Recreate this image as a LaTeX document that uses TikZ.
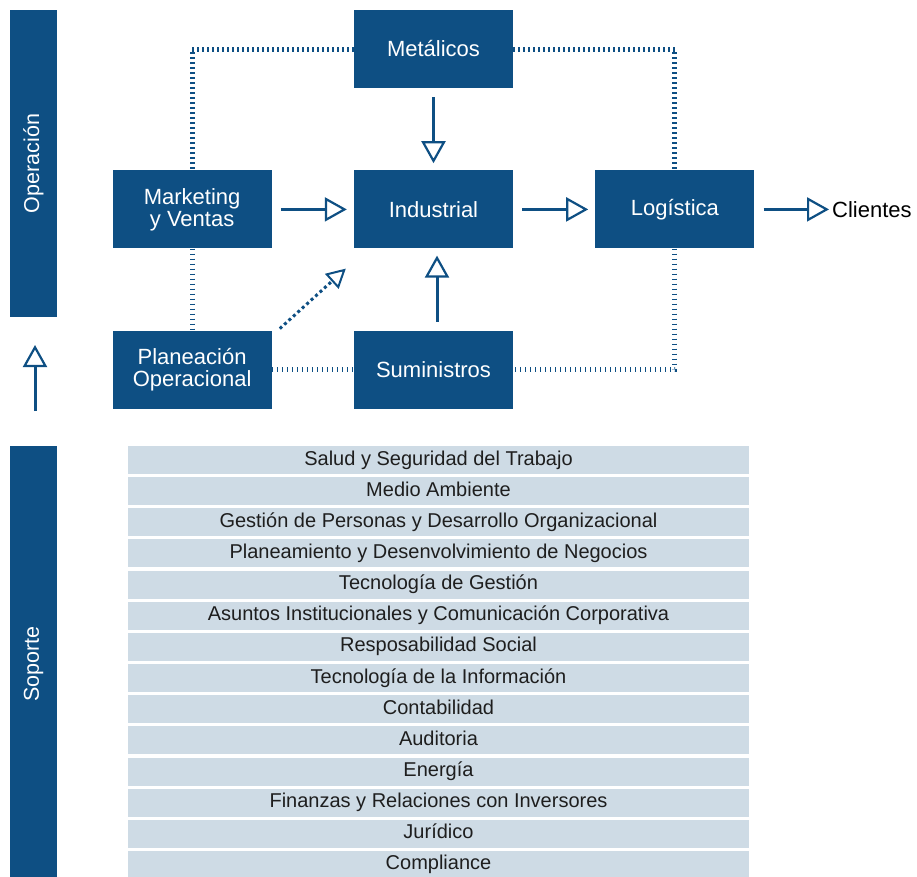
\documentclass[tikz,border=0pt]{standalone}
\usepackage{fontspec}
\setmainfont{Liberation Sans}
\usepackage{xcolor}
\usepackage{tikz}
\usetikzlibrary{arrows.meta, positioning}
\definecolor{navy}{RGB}{14,79,131}
\definecolor{rowfill}{RGB}{206,219,229}
\definecolor{ink}{RGB}{30,30,30}

\begin{document}
\begin{tikzpicture}[
  x=1pt, y=-1pt,
  node distance=82pt and 82pt,
  proc/.style={fill=navy, text=white, minimum width=159pt, minimum height=78pt,
               inner sep=0pt, align=center, font=\fontsize{22}{24}\selectfont},
  band/.style={fill=navy, text=white, rotate=90, minimum height=47pt, inner sep=0pt,
               font=\fontsize{21.5}{24}\selectfont},
  row/.style={fill=rowfill, text=ink, minimum width=621pt, minimum height=28pt,
              inner sep=0pt, text height=14pt, text depth=4pt,
              font=\fontsize{20}{22}\selectfont},
  flow/.style={-{Triangle[fill=white, length=22pt, width=24pt, line width=2.2pt]},
               draw=navy, line width=3pt, shorten <=9pt, shorten >=7pt},
  dotline/.style={draw=navy, line width=5pt, dash pattern=on 1.4pt off 3.6pt}
]
  \useasboundingbox (0,0) rectangle (917,876);
  \clip (0,0) rectangle (917,876);

  % side bands
  \node[band, minimum width=307pt] (oper) at (33.5,163.5) {Operación};
  \node[band, minimum width=436pt] (sop) at (33.5,664) {Soporte};
  \coordinate (upfoot) at (35,411);
  \coordinate (uptip) at (35,345);
  \draw[flow, shorten <=0pt, shorten >=0pt] (upfoot) -- (uptip);

  % operation chain
  \node[proc] (met) at (433.5,49) {Metálicos};
  \node[proc, below=of met] (ind) {Industrial};
  \node[proc, left=of ind] (mkt) {Marketing\\[-2pt]y Ventas};
  \node[proc, right=of ind] (log) {Logística};
  \node[proc, below=of ind] (sum) {Suministros};
  \node[proc, left=of sum] (plan) {Planeación\\[-2pt]Operacional};
  \node[anchor=west, inner sep=3pt, font=\fontsize{22}{24}\selectfont] (cli) at (829,210) {Clientes};

  \draw[dotline] (met.west) -| (mkt.north);
  \draw[dotline] (mkt.south) -- (plan.north);
  \draw[dotline] (plan.east) -- (sum.west);
  \draw[dotline] (met.east) -| (log.north);
  \draw[dotline] (log.south) |- (sum.east);

  \draw[flow] (met) -- (ind);
  \draw[flow] (mkt) -- (ind);
  \draw[flow] (ind) -- (log);
  \draw[flow, shorten >=0pt] (log.east) -- (log.east -| cli.west);
  \draw[flow] ([xshift=3.5pt]sum.north) -- ([xshift=3.5pt]ind.south);
  \draw[flow, line width=3pt, dash pattern=on 3pt off 3pt, shorten <=0pt, shorten >=0pt,
        -{Triangle[fill=white, length=19pt, width=20pt, line width=2pt]}]
    ([shift={(8pt,2pt)}]plan.north east) -- ([shift={(-8pt,-20pt)}]ind.south west);

  % support areas
  \foreach \txt [count=\i from 0] in {Salud y Seguridad del Trabajo, Medio Ambiente,
      Gestión de Personas y Desarrollo Organizacional,
      Planeamiento y Desenvolvimiento de Negocios, Tecnología de Gestión,
      Asuntos Institucionales y Comunicación Corporativa, Resposabilidad Social,
      Tecnología de la Información, Contabilidad, Auditoria, Energía,
      Finanzas y Relaciones con Inversores, Jurídico, Compliance}
    \node[row] (row\i) at (438.5,460+31.15*\i) {\txt};
\end{tikzpicture}
\end{document}
